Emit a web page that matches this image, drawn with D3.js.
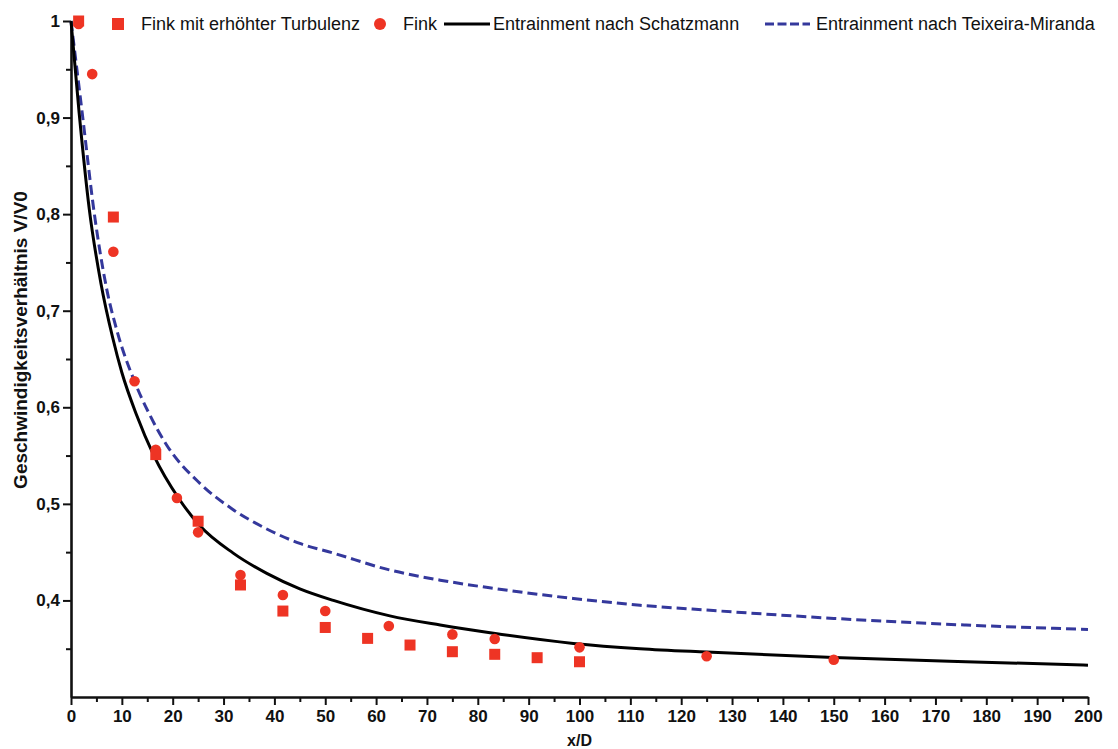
<!DOCTYPE html>
<html>
<head>
<meta charset="utf-8">
<script src="https://cdn.jsdelivr.net/npm/d3@7"></script>
<style>
  body { margin: 0; background: #ffffff; }
  svg { display: block; }
  text { font-family: "Liberation Sans", Arial, sans-serif; fill: #111; }
</style>
</head>
<body>
<svg id="chart" width="1118" height="749"></svg>
<script>
// Measured velocity ratio V/V0 along the jet axis (x/D)
const turbX = [1.5, 8.33, 16.67, 25, 33.33, 41.67, 50, 58.33, 66.67, 75, 83.33, 91.67, 100];
const turbV = [1.0, 0.797, 0.551, 0.482, 0.416, 0.389, 0.372, 0.3607, 0.3538, 0.3469, 0.3442, 0.3407, 0.3365];

const finkX = [1.5, 4.17, 8.33, 12.5, 16.67, 20.83, 25, 33.33, 41.67, 50, 62.5, 75, 83.33, 100, 125, 150];
const finkV = [0.997, 0.945, 0.761, 0.627, 0.556, 0.506, 0.4705, 0.4263, 0.4056, 0.389, 0.3735, 0.3648, 0.360, 0.3514, 0.3422, 0.3385];

// Model curves
const schatzX = [0, 1.6, 3.6, 5.9, 8.2, 10, 12.9, 16.2, 21.4, 25.4, 31.9, 38.5, 45, 51.6, 62.7, 72.6, 83.1, 98.8, 111.9, 125, 150, 176, 200];
const schatzV = [1.0, 0.905, 0.805, 0.728, 0.672, 0.636, 0.592, 0.551, 0.504, 0.477, 0.449, 0.428, 0.412, 0.400, 0.384, 0.3745, 0.366, 0.3555, 0.350, 0.3465, 0.341, 0.3366, 0.333];

const teixX = [0, 2.2, 4.6, 7.0, 9.0, 12.4, 15.5, 18.8, 25.4, 31.9, 38.5, 45, 51.6, 62.7, 72.6, 83.1, 98.8, 111.9, 125, 150, 176, 200];
const teixV = [1.0, 0.905, 0.80, 0.723, 0.68, 0.628, 0.592, 0.561, 0.521, 0.494, 0.474, 0.459, 0.449, 0.4315, 0.421, 0.4125, 0.402, 0.395, 0.390, 0.3814, 0.3745, 0.370];

// Axis ticks
const xMajor = d3.range(0, 201, 10);
const xMinor = d3.range(5, 200, 10);
const yMajor = [0.4, 0.5, 0.6, 0.7, 0.8, 0.9, 1.0];
const yMinor = [0.35, 0.45, 0.55, 0.65, 0.75, 0.85, 0.95];

const legendLabels = ["Fink mit erhöhter Turbulenz", "Fink", "Entrainment nach Schatzmann", "Entrainment nach Teixeira-Miranda"];

const RED = "#ee3424";
const BLUE = "#34389c";

const svg = d3.select("#chart");

const x = d3.scaleLinear().domain([0, 200]).range([71, 1088]);
const y = d3.scaleLinear().domain([0.3, 1.0]).range([697, 21]);

const fmt = v => (v === 1 ? "1" : v.toFixed(1).replace(".", ","));

// Minor ticks
svg.append("g")
  .attr("transform", `translate(0,${y(0.3)})`)
  .call(d3.axisBottom(x).tickValues(xMinor).tickSize(5).tickSizeOuter(0).tickFormat(""))
  .call(g => g.select(".domain").remove())
  .call(g => g.selectAll("line").attr("stroke", "#111").attr("stroke-width", 2));

svg.append("g")
  .attr("transform", `translate(${x(0)},0)`)
  .call(d3.axisLeft(y).tickValues(yMinor).tickSize(5).tickSizeOuter(0).tickFormat(""))
  .call(g => g.select(".domain").remove())
  .call(g => g.selectAll("line").attr("stroke", "#111").attr("stroke-width", 2));

// Major axes
const xAxis = svg.append("g")
  .attr("transform", `translate(0,${y(0.3)})`)
  .call(d3.axisBottom(x).tickValues(xMajor).tickSize(8).tickSizeOuter(0).tickPadding(5));
xAxis.select(".domain").attr("stroke", "#111").attr("stroke-width", 2.6);
xAxis.selectAll("line").attr("stroke", "#111").attr("stroke-width", 2);
xAxis.selectAll("text").attr("font-size", 17).attr("font-weight", "bold").attr("fill", "#111")
  .attr("font-family", "Liberation Sans, Arial, sans-serif");

const yAxis = svg.append("g")
  .attr("transform", `translate(${x(0)},0)`)
  .call(d3.axisLeft(y).tickValues(yMajor).tickFormat(fmt).tickSize(8).tickSizeOuter(0).tickPadding(3));
yAxis.select(".domain").attr("stroke", "#111").attr("stroke-width", 2.6);
yAxis.selectAll("line").attr("stroke", "#111").attr("stroke-width", 2);
yAxis.selectAll("text").attr("font-size", 17).attr("font-weight", "bold").attr("fill", "#111")
  .attr("font-family", "Liberation Sans, Arial, sans-serif");

// Axis titles
svg.append("text")
  .attr("x", (x(0) + x(200)) / 2)
  .attr("y", 746)
  .attr("text-anchor", "middle")
  .attr("font-size", 16)
  .attr("font-weight", "bold")
  .text("x/D");

svg.append("text")
  .attr("transform", `translate(20,340) rotate(-90)`)
  .attr("text-anchor", "middle")
  .attr("dominant-baseline", "central")
  .attr("font-size", 19)
  .attr("font-weight", "bold")
  .text("Geschwindigkeitsverhältnis V/V0");

// Model curves
const line = d3.line().x(d => x(d[0])).y(d => y(d[1])).curve(d3.curveMonotoneX);

svg.append("path")
  .datum(d3.zip(teixX, teixV))
  .attr("d", line)
  .attr("fill", "none")
  .attr("stroke", BLUE)
  .attr("stroke-width", 3)
  .attr("stroke-dasharray", "10,5");

svg.append("path")
  .datum(d3.zip(schatzX, schatzV))
  .attr("d", line)
  .attr("fill", "none")
  .attr("stroke", "#000")
  .attr("stroke-width", 3);

// Measurements
svg.append("g").selectAll("circle")
  .data(d3.zip(finkX, finkV))
  .join("circle")
  .attr("cx", d => x(d[0]))
  .attr("cy", d => y(d[1]))
  .attr("r", 5.3)
  .attr("fill", RED);

const sq = 11;
svg.append("g").selectAll("rect")
  .data(d3.zip(turbX, turbV))
  .join("rect")
  .attr("x", d => x(d[0]) - sq / 2)
  .attr("y", d => y(d[1]) - sq / 2)
  .attr("width", sq)
  .attr("height", sq)
  .attr("fill", RED);

// Legend
const ly = 24;
const legend = svg.append("g").attr("font-size", 18);

legend.append("rect").attr("x", 112).attr("y", ly - 6).attr("width", 12).attr("height", 12).attr("fill", RED);
legend.append("text").attr("x", 141).attr("y", ly).attr("dominant-baseline", "central").text(legendLabels[0]);

legend.append("circle").attr("cx", 380).attr("cy", ly).attr("r", 6).attr("fill", RED);
legend.append("text").attr("x", 403).attr("y", ly).attr("dominant-baseline", "central").text(legendLabels[1]);

legend.append("line").attr("x1", 444).attr("x2", 490).attr("y1", ly).attr("y2", ly)
  .attr("stroke", "#000").attr("stroke-width", 3);
legend.append("text").attr("x", 493).attr("y", ly).attr("dominant-baseline", "central").text(legendLabels[2]);

legend.append("line").attr("x1", 765).attr("x2", 810).attr("y1", ly).attr("y2", ly)
  .attr("stroke", BLUE).attr("stroke-width", 3).attr("stroke-dasharray", "9,3.5");
legend.append("text").attr("x", 816).attr("y", ly).attr("dominant-baseline", "central").text(legendLabels[3]);
</script>
</body>
</html>
